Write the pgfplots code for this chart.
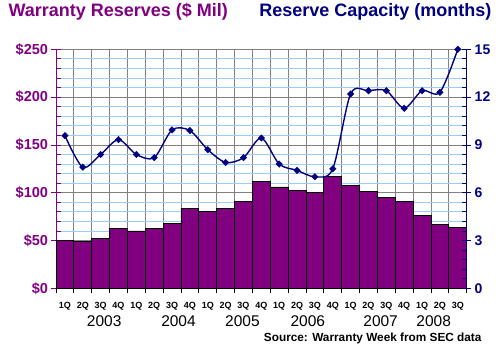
\documentclass[border=0pt]{standalone}
\usepackage{pgfplots}
\pgfplotsset{compat=1.18}
\usepackage{fontspec}
\setmainfont{Liberation Sans}
\definecolor{wpurple}{RGB}{128,0,128}
\definecolor{wnavy}{RGB}{0,0,128}
\definecolor{gridblue}{RGB}{153,204,255}
\definecolor{gridgray}{RGB}{128,128,128}
\begin{document}
\begin{tikzpicture}[x=1pt,y=1pt]
\path[use as bounding box] (0,0) rectangle (500,360);
\pgfplotsset{base/.style={at={(56pt,71.7pt)}, anchor=south west, width=410.7pt, height=239pt, scale only axis, xmin=0.5, xmax=23.5, /pgf/number format/assume math mode=true, tick align=center, major tick length=9pt, minor tick length=4.5pt}}
% grid
\begin{axis}[base, ymin=0, ymax=250,
  xtick={0.5,1.5,...,23.5}, xticklabels={},
  ytick={0,50,...,250}, minor ytick={10,20,...,240}, yticklabels={},
  xmajorgrids, ymajorgrids, yminorgrids,
  major grid style={gridgray, line width=0.8pt},
  minor grid style={gridblue, line width=0.8pt},
  tick style={draw=none}, axis line style={draw=none}]
\end{axis}
% bars
\begin{axis}[base, ymin=0, ymax=250, clip=false,
  axis x line*=bottom, axis y line*=left,
  axis line style={-},
  x axis line style={black, line width=0.8pt},
  y axis line style={wpurple, line width=0.8pt},
  xtick={1,...,23},
  xticklabels={1Q,2Q,3Q,4Q,1Q,2Q,3Q,4Q,1Q,2Q,3Q,4Q,1Q,2Q,3Q,4Q,1Q,2Q,3Q,4Q,1Q,2Q,3Q},
  major x tick style={draw=none},
  minor xtick={0.5,1.5,...,23.5},
  minor x tick style={black, line width=0.8pt, yshift=-2.25pt},
  xticklabel style={font=\bfseries\fontsize{9}{10}\selectfont, text=black, yshift=-5.4pt},
  ytick={0,50,...,250},
  yticklabels={\$0,\$50,\$100,\$150,\$200,\$250},
  minor ytick={10,20,...,240},
  major y tick style={wpurple, line width=0.8pt},
  minor y tick style={wpurple, line width=0.8pt, xshift=2.25pt},
  yticklabel style={font=\bfseries\fontsize{14.5}{16}\selectfont, text=wpurple}]
\addplot[ybar, bar width=1, fill=wpurple, draw=black, line width=0.8pt] coordinates {
(1,50) (2,49) (3,52) (4,63) (5,60) (6,63) (7,68) (8,84) (9,80.5) (10,84) (11,91) (12,112)
(13,106) (14,102.5) (15,100.5) (16,117) (17,108) (18,101.5) (19,95) (20,91) (21,76.5) (22,67) (23,64)};
\begin{scope}[every node/.style={anchor=base, font=\fontsize{15.5}{17}\selectfont, yshift=-38.4pt}]
\node at (axis cs:3.2,0) {2003};
\node at (axis cs:7.36,0) {2004};
\node at (axis cs:10.94,0) {2005};
\node at (axis cs:14.6,0) {2006};
\node at (axis cs:18.68,0) {2007};
\node at (axis cs:21.65,0) {2008};
\end{scope}
\end{axis}
% line
\begin{axis}[base, ymin=0, ymax=15, clip=false,
  axis y line*=right, axis x line=none,
  axis line style={-},
  y axis line style={wnavy, line width=0.8pt},
  xtick=\empty,
  ytick={0,3,...,15}, minor y tick num=4,
  major y tick style={wnavy, line width=0.8pt},
  minor y tick style={wnavy, line width=0.8pt, xshift=-2.25pt},
  yticklabel style={font=\bfseries\fontsize{14}{16}\selectfont, text=wnavy}]
\addplot[wnavy, line width=1.4pt, smooth, mark=square*, mark size=2.3pt, mark options={rotate=45, fill=wnavy, line width=0.4pt}] coordinates {
(1,9.58) (2,7.6) (3,8.4) (4,9.33) (5,8.4) (6,8.2) (7,9.94) (8,9.9) (9,8.7) (10,7.9) (11,8.2) (12,9.43)
(13,7.8) (14,7.4) (15,7.0) (16,7.5) (17,12.2) (18,12.4) (19,12.4) (20,11.3) (21,12.4) (22,12.3) (23,15.0)};
\end{axis}
\node[anchor=base west, text=wpurple, font=\bfseries\fontsize{18}{20}\selectfont] at (5,343.3) {Warranty Reserves (\$ Mil)};
\node[anchor=base east, text=wnavy, font=\bfseries\fontsize{18}{20}\selectfont] at (495,343.3) {Reserve Capacity (months)};
\node[anchor=base east, text=black, font=\bfseries\fontsize{11.8}{13}\selectfont] at (485,18.3) {Source: Warranty Week from SEC data};
\end{tikzpicture}
\end{document}
